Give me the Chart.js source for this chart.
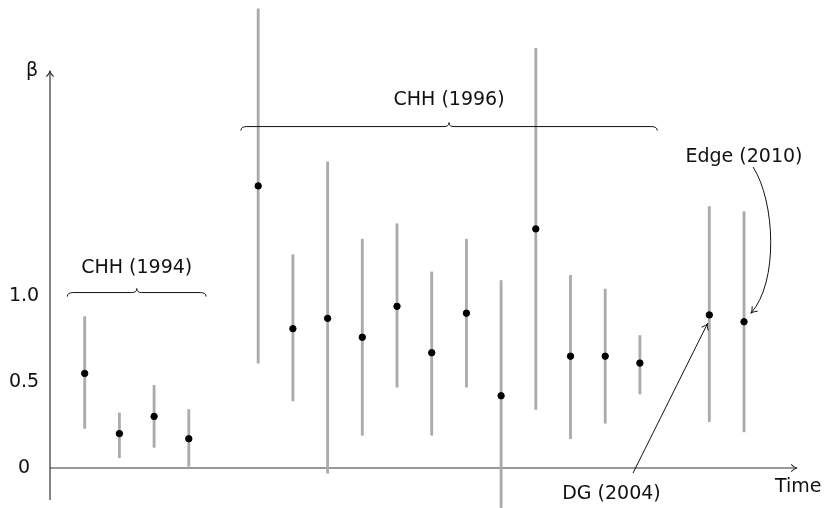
<!DOCTYPE html>
<html>
<head>
<meta charset="utf-8">
<script src="https://cdn.jsdelivr.net/npm/chart.js@4.4.1/dist/chart.umd.min.js"></script>
<style>
  html, body { margin: 0; padding: 0; background: #fff; }
  #wrap { width: 825px; height: 508px; }
</style>
</head>
<body>
<div id="wrap"><canvas id="chart"></canvas></div>
<script>
// estimate slots along the time axis (gaps at 5 and 18)
const xPos     = [1, 2, 3, 4, 6, 7, 8, 9, 10, 11, 12, 13, 14, 15, 16, 17, 19, 20];
const beta     = [0.55, 0.20, 0.30, 0.17, 1.64, 0.81, 0.87, 0.76, 0.94, 0.67, 0.90, 0.42, 1.39, 0.65, 0.65, 0.61, 0.89, 0.85];
const betaLow  = [0.23, 0.06, 0.12, 0.01, 0.61, 0.39, -0.03, 0.19, 0.47, 0.19, 0.47, -0.23, 0.34, 0.17, 0.26, 0.43, 0.27, 0.21];
const betaHigh = [0.88, 0.32, 0.48, 0.34, 2.67, 1.24, 1.78, 1.33, 1.42, 1.14, 1.33, 1.09, 2.44, 1.12, 1.04, 0.77, 1.52, 1.49];
const tickValues = [0, 0.5, 1.0];
const tickLabels = ['0', '0.5', '1.0'];

const FONT = '19px "DejaVu Sans", sans-serif';

// annotation layout in data units
const braces = [
  { from: 0.5, to: 4.5, y: 1.02, label: 'CHH (1994)', labelY: 1.16 },
  { from: 5.5, to: 17.5, y: 1.985, label: 'CHH (1996)', labelY: 2.14 }
];

function arrowHead(ctx, x, y, angle) {
  const len = 7, spread = 0.55;
  ctx.beginPath();
  ctx.moveTo(x - len * Math.cos(angle - spread), y - len * Math.sin(angle - spread));
  ctx.quadraticCurveTo(x - 2 * Math.cos(angle), y - 2 * Math.sin(angle), x, y);
  ctx.quadraticCurveTo(x - 2 * Math.cos(angle), y - 2 * Math.sin(angle),
    x - len * Math.cos(angle + spread), y - len * Math.sin(angle + spread));
  ctx.stroke();
}

function drawBrace(ctx, x1, x2, y) {
  const xm = (x1 + x2) / 2;
  ctx.beginPath();
  ctx.moveTo(x1, y + 4);
  ctx.quadraticCurveTo(x1, y, x1 + 6, y);
  ctx.lineTo(xm - 5, y);
  ctx.quadraticCurveTo(xm, y, xm, y - 4);
  ctx.quadraticCurveTo(xm, y, xm + 5, y);
  ctx.lineTo(x2 - 6, y);
  ctx.quadraticCurveTo(x2, y, x2, y + 4);
  ctx.stroke();
}

const axesPlugin = {
  id: 'axes',
  beforeDatasetsDraw(chart) {
    const ctx = chart.ctx;
    const xs = chart.scales.x, ys = chart.scales.y;
    const x0 = xs.getPixelForValue(0), y0 = ys.getPixelForValue(0);
    ctx.save();
    ctx.strokeStyle = '#333';
    ctx.lineWidth = 1.2;
    // y axis
    const yTop = ys.getPixelForValue(2.31);
    ctx.beginPath();
    ctx.moveTo(x0, ys.getPixelForValue(-0.186));
    ctx.lineTo(x0, yTop);
    ctx.stroke();
    arrowHead(ctx, x0, yTop, -Math.PI / 2);
    // x axis
    const xEnd = xs.getPixelForValue(21.53);
    ctx.beginPath();
    ctx.moveTo(x0, y0);
    ctx.lineTo(xEnd, y0);
    ctx.stroke();
    arrowHead(ctx, xEnd, y0, 0);

    ctx.fillStyle = '#111';
    ctx.font = FONT;
    ctx.textAlign = 'center';
    ctx.textBaseline = 'middle';
    tickValues.forEach((v, i) => {
      ctx.fillText(tickLabels[i], x0 - 26, ys.getPixelForValue(v));
    });
    ctx.fillText('β', x0 - 18, yTop);
    ctx.fillText('Time', xs.getPixelForValue(21.56), ys.getPixelForValue(-0.11));
    ctx.restore();
  },
  afterDatasetsDraw(chart) {
    const ctx = chart.ctx;
    const xs = chart.scales.x, ys = chart.scales.y;
    const px = v => xs.getPixelForValue(v), py = v => ys.getPixelForValue(v);
    ctx.save();
    ctx.strokeStyle = '#111';
    ctx.fillStyle = '#111';
    ctx.lineWidth = 1;
    ctx.font = FONT;
    ctx.textAlign = 'center';
    ctx.textBaseline = 'middle';

    braces.forEach(b => {
      drawBrace(ctx, px(b.from), px(b.to), py(b.y));
      ctx.fillText(b.label, (px(b.from) + px(b.to)) / 2, py(b.labelY));
    });

    // Edge (2010)
    ctx.fillText('Edge (2010)', px(20.0), py(1.81));
    const ex = px(20.2), ey = py(0.90);
    ctx.beginPath();
    ctx.moveTo(px(20.26), py(1.75));
    ctx.bezierCurveTo(px(20.9), py(1.55), px(21.0), py(1.08), ex, ey);
    ctx.stroke();
    arrowHead(ctx, ex, ey, Math.atan2(ey - py(1.08), ex - px(21.0)));

    // DG (2004)
    ctx.fillText('DG (2004)', px(16.18), py(-0.15));
    const sx = px(16.8), sy = py(-0.03), tx = px(18.95), ty = py(0.84);
    ctx.beginPath();
    ctx.moveTo(sx, sy);
    ctx.lineTo(tx, ty);
    ctx.stroke();
    arrowHead(ctx, tx, ty, Math.atan2(ty - sy, tx - sx));
    ctx.restore();
  }
};

new Chart(document.getElementById('chart'), {
  type: 'bar',
  data: {
    datasets: [
      {
        type: 'scatter',
        data: xPos.map((x, i) => ({ x: x, y: beta[i] })),
        backgroundColor: '#000',
        borderColor: '#000',
        pointRadius: 3.2,
        pointHoverRadius: 3.2,
        order: 0
      },
      {
        type: 'bar',
        data: xPos.map((x, i) => ({ x: x, y: [betaLow[i], betaHigh[i]] })),
        backgroundColor: '#ababab',
        borderWidth: 0,
        barThickness: 2.2,
        order: 1
      }
    ]
  },
  options: {
    responsive: true,
    maintainAspectRatio: false,
    animation: false,
    events: [],
    layout: { padding: 0, autoPadding: false },
    plugins: { legend: { display: false }, tooltip: { enabled: false } },
    scales: {
      x: { type: 'linear', min: -1.441, max: 22.334, offset: false, display: false },
      y: { type: 'linear', min: -0.2326, max: 2.7209, display: false }
    }
  },
  plugins: [axesPlugin]
});
</script>
</body>
</html>
